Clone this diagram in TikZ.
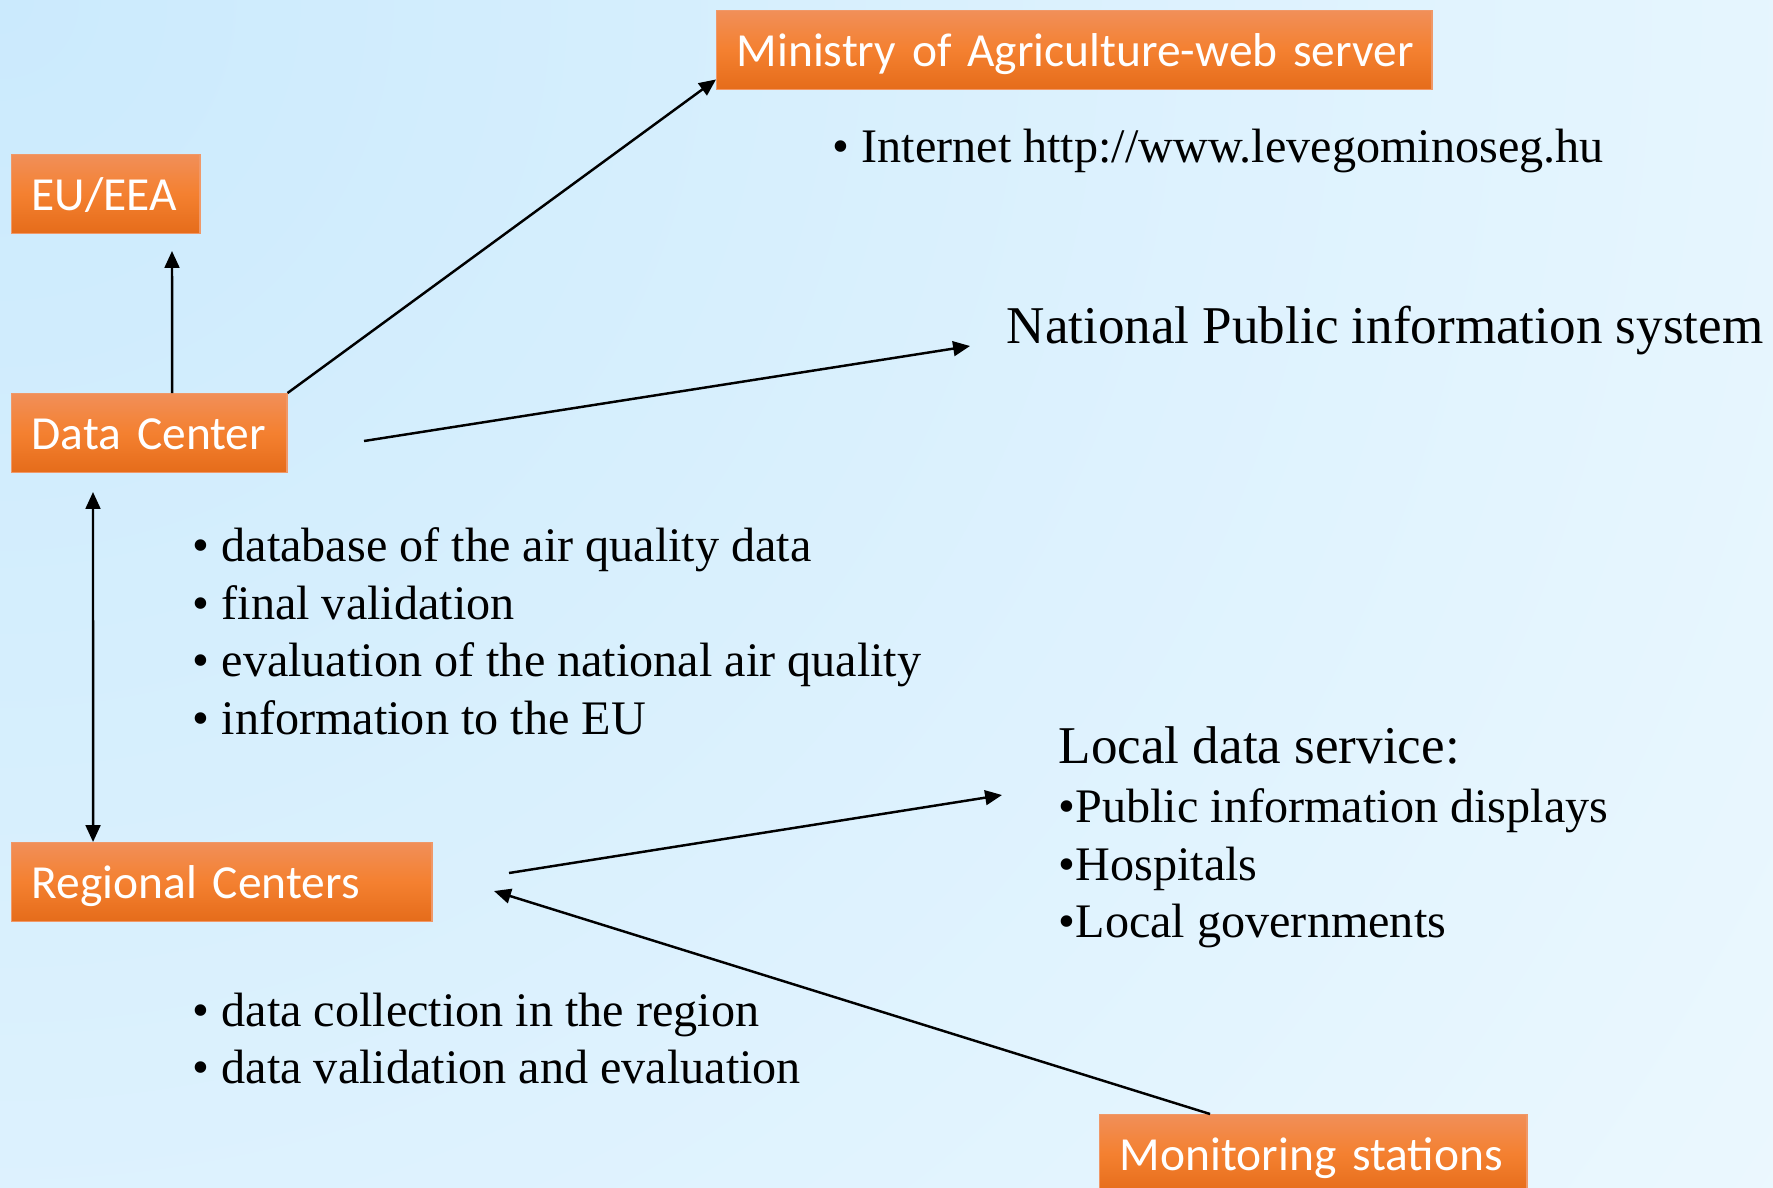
\documentclass[tikz,border=0pt]{standalone}
\usepackage{fontspec}
\setmainfont{Liberation Serif}
\newfontfamily\boxfont{Carlito}
\usetikzlibrary{arrows.meta}

\definecolor{bgInner}{RGB}{203,234,253}
\definecolor{bgOuter}{RGB}{236,248,254}
\definecolor{boxTop}{RGB}{241,143,88}
\definecolor{boxMid}{RGB}{244,128,48}
\definecolor{boxBot}{RGB}{229,108,26}
\definecolor{boxEdge}{RGB}{240,152,104}

\begin{document}
\begin{tikzpicture}[x=0.01cm,y=-0.01cm,
  >={Triangle[length=4.8pt,width=4.2pt]},
  link/.style={line width=0.7pt}]
\useasboundingbox (0,0) rectangle (1773,1187);

\begin{scope}
\clip (0,0) rectangle (1773,1187);
\shade[inner color=bgInner,outer color=bgOuter] (0,0) circle (22cm);
\end{scope}

\begin{scope}[every node/.style={anchor=north west,draw=boxEdge,line width=0.4pt,
  top color=boxTop,bottom color=boxBot,middle color=boxMid,text=white,
  font=\boxfont\fontsize{13.5}{16}\selectfont,align=left,
  inner xsep=0.2cm,inner ysep=0pt,minimum height=0.79cm,text height=11pt,text depth=2pt}]
\node[text width=1.48cm] (eu) at (11,154) {EU/EEA};
\node[text width=2.35cm] (dc) at (11,393) {Data Center};
\node[text width=3.80cm] (rc) at (11,842) {Regional Centers};
\node[text width=6.75cm] (min) at (716,10) {\mbox{Ministry of Agriculture-web server}};
\node[text width=3.87cm] (ms) at (1099,1114) {Monitoring stations};
\end{scope}

\begin{scope}[every node/.style={anchor=north west,inner sep=0pt,align=left,
  font=\fontsize{13.7}{16.4}\selectfont}]
\node (web) at (832,128) {• Internet http://www.levegominoseg.hu};
\node[font=\fontsize{15.1}{18}\selectfont] (nat) at (1006,305) {National Public information system};
\node (dcList) at (192,527) {• database of the air quality data\\• final validation\\• evaluation of the national air quality\\• information to the EU};
\node[font=\fontsize{15.1}{18}\selectfont] (local) at (1058,726) {Local data service:};
\node (localList) at (1058,788) {•Public information displays\\•Hospitals\\•Local governments};
\node (rcList) at (192,992) {• data collection in the region\\• data validation and evaluation};
\end{scope}

\coordinate (euIn) at (172,251);
\coordinate (dcR) at (364,441);
\coordinate (natIn) at (970,346);
\coordinate (dcDown) at (93,492);
\coordinate (rcR) at (509,873);
\coordinate (localIn) at (1002,795);
\coordinate (rcIn) at (494,891);

\draw[link,->] ([xshift=1.61cm]dc.north west) -- (euIn);
\draw[link,->] (dc.north east) -- ([yshift=0.11cm]min.south west);
\draw[link,->] (dcR) -- (natIn);
\draw[link,<->] (dcDown) -- ([xshift=0.82cm]rc.north west);
\draw[link,->] (rcR) -- (localIn);
\draw[link,->] ([xshift=1.11cm]ms.north west) -- (rcIn);
\end{tikzpicture}
\end{document}
